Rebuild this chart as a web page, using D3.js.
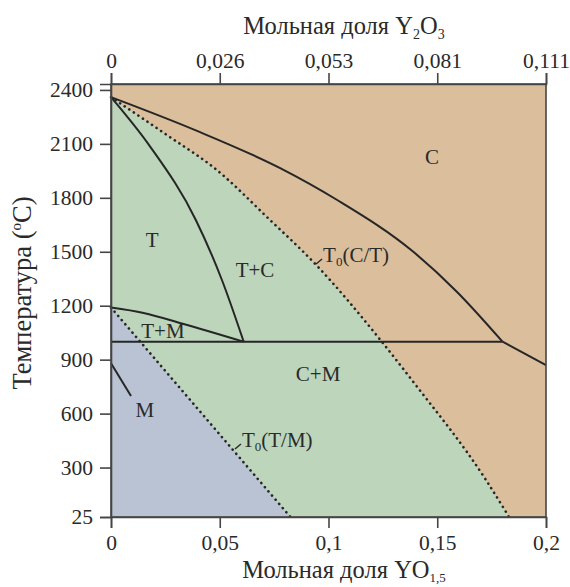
<!DOCTYPE html>
<html><head><meta charset="utf-8">
<script src="https://cdn.jsdelivr.net/npm/d3@7"></script>
<style>
body{margin:0;background:#fff;}
svg{display:block;}
svg text{font-family:"Liberation Serif","Times New Roman",serif;}
</style></head>
<body><svg id="chart" width="570" height="587"></svg>
<script>
// ---- data ----
const xTicks = [0, 0.05, 0.1, 0.15, 0.2];
const xTickLabels = ["0", "0,05", "0,1", "0,15", "0,2"];
const xTopTickLabels = ["0", "0,026", "0,053", "0,081", "0,111"];
const yTicks = [25, 300, 600, 900, 1200, 1500, 1800, 2100, 2400];

// phase boundaries: [mole fraction YO1.5, temperature °C]
const cubicBoundary = [[0,2360],[0.039,2175],[0.078,1964],[0.104,1788],[0.139,1500],[0.159,1278],[0.18,1000]];
const tetragonalBoundary = [[0,2360],[0.018,2085],[0.039,1677],[0.051,1343],[0.061,1000]];
const tmBoundary = [[0,1190],[0.015,1160],[0.033,1100],[0.061,1000]];
const eutectoid = [[0,1000],[0.18,1000]];
const cubicLow = [[0.18,1000],[0.2,870]];
const mBoundary = [[0,880],[0.0092,698]];
const t0CT = [[0,2360],[0.0256,2150],[0.0486,1955],[0.0723,1686],[0.0943,1427],[0.1245,1000],[0.1383,787],[0.1724,231],[0.183,25]];
const t0TM = [[0,1190],[0.0825,25]];

const regionLabels = [
  {text:"C", x:0.1476, t:2027},
  {text:"T", x:0.0189, t:1566},
  {text:"T+C", x:0.0662, t:1399},
  {text:"T+M", x:0.0239, t:1060},
  {text:"C+M", x:0.0952, t:820},
  {text:"M", x:0.0156, t:620}
];
const t0Labels = [
  {inner:"C/T", x:0.0975, t:1482},
  {inner:"T/M", x:0.0602, t:453}
];

// ---- layout ----
const mL = 111, mR = 546, mT = 84, mB = 517;
const svg = d3.select("#chart");
const x = d3.scaleLinear().domain([0, 0.2]).range([mL, mR]);
const y = d3.scaleLinear().domain([25, 2433]).range([mB, mT]);

const tan = "#dbbe9c", green = "#bcd5bb", blue = "#b9c3d3";
const lineCol = "#262626", axisCol = "#454545", textCol = "#2a2a2a";
const serif = '"Liberation Serif","Times New Roman",serif';

svg.append("rect").attr("x", mL).attr("y", mT).attr("width", mR-mL).attr("height", mB-mT).attr("fill", tan);

const straight = d3.line().x(d=>x(d[0])).y(d=>y(d[1]));
const smooth = d3.line().x(d=>x(d[0])).y(d=>y(d[1])).curve(d3.curveMonotoneX);
svg.append("path").attr("d", smooth(t0CT) + "L" + x(0) + "," + y(25) + "Z").attr("fill", green);
svg.append("path").attr("d", straight(t0TM) + "L" + x(0) + "," + y(25) + "Z").attr("fill", blue);

[cubicBoundary, tetragonalBoundary, tmBoundary].forEach(d=>{
  svg.append("path").attr("d", smooth(d)).attr("fill","none").attr("stroke", lineCol).attr("stroke-width", 2);
});
[eutectoid, cubicLow, mBoundary].forEach(d=>{
  svg.append("path").attr("d", straight(d)).attr("fill","none").attr("stroke", lineCol).attr("stroke-width", 2);
});
svg.append("path").attr("d", smooth(t0CT)).attr("fill","none").attr("stroke", lineCol)
  .attr("stroke-width", 2.6).attr("stroke-linecap","round").attr("stroke-dasharray","0.1,5.4");
svg.append("path").attr("d", straight(t0TM)).attr("fill","none").attr("stroke", lineCol)
  .attr("stroke-width", 2.6).attr("stroke-linecap","round").attr("stroke-dasharray","0.1,5.4");

svg.append("rect").attr("x", mL).attr("y", mT).attr("width", mR-mL).attr("height", mB-mT)
  .attr("fill","none").attr("stroke", axisCol).attr("stroke-width", 1.6);

const fs = 21.5;
const axB = svg.append("g").attr("transform", `translate(0,${mB})`)
  .call(d3.axisBottom(x).tickValues(xTicks).tickFormat((d,i)=>xTickLabels[i]).tickSize(11).tickPadding(7));
const axT = svg.append("g").attr("transform", `translate(0,${mT})`)
  .call(d3.axisTop(x).tickValues(xTicks).tickFormat((d,i)=>xTopTickLabels[i]).tickSize(11).tickPadding(5));
const axL = svg.append("g").attr("transform", `translate(${mL},0)`)
  .call(d3.axisLeft(y).tickValues(yTicks).tickFormat(d=>String(d)).tickSize(11).tickPadding(7));
[axB, axT, axL].forEach(g=>{
  g.attr("font-family", serif).attr("font-size", fs);
  g.select(".domain").attr("stroke", axisCol).attr("stroke-width", 1.6);
  g.selectAll(".tick line").attr("stroke", axisCol).attr("stroke-width", 1.6);
  g.selectAll(".tick text").attr("fill", textCol).style("font-size", fs+"px").style("font-family", serif);
});

svg.selectAll(".rlab").data(regionLabels).enter().append("text")
  .attr("x", d=>x(d.x)).attr("y", d=>y(d.t)).attr("dy","0.35em").attr("text-anchor","middle")
  .attr("fill", textCol).style("font-size", "21px").text(d=>d.text);

t0Labels.forEach(d=>{
  const px = x(d.x), py = y(d.t);
  const t = svg.append("text").attr("x", px).attr("y", py).attr("dy","0.35em").attr("fill", textCol).style("font-size","21px");
  t.append("tspan").text("T");
  t.append("tspan").attr("dy","0.3em").style("font-size","13px").text("0");
  t.append("tspan").attr("dy","-0.2em").text("(" + d.inner + ")");
  svg.append("line").attr("x1", px-7).attr("y1", py+9).attr("x2", px-1).attr("y2", py+4)
    .attr("stroke", lineCol).attr("stroke-width", 1.4);
});

const tt = svg.append("text").attr("x", 344).attr("y", 34).attr("text-anchor","middle").attr("fill", textCol).style("font-size","24.5px");
tt.append("tspan").text("Мольная доля Y");
tt.append("tspan").attr("dy","5").style("font-size","14px").text("2");
tt.append("tspan").attr("dy","-5").text("O");
tt.append("tspan").attr("dy","5").style("font-size","14px").text("3");

const bt = svg.append("text").attr("x", 344).attr("y", 578).attr("text-anchor","middle").attr("fill", textCol).style("font-size","24.5px");
bt.append("tspan").text("Мольная доля YO");
bt.append("tspan").attr("dy","4").style("font-size","13px").text("1,5");

const yt = svg.append("text").attr("transform", "translate(31,293) rotate(-90)").attr("text-anchor","middle").attr("fill", textCol).style("font-size","26.5px");
yt.append("tspan").text("Температура (");
yt.append("tspan").attr("dy","-10").style("font-size","15px").text("o");
yt.append("tspan").attr("dy","10").text("C)");
</script></body></html>
